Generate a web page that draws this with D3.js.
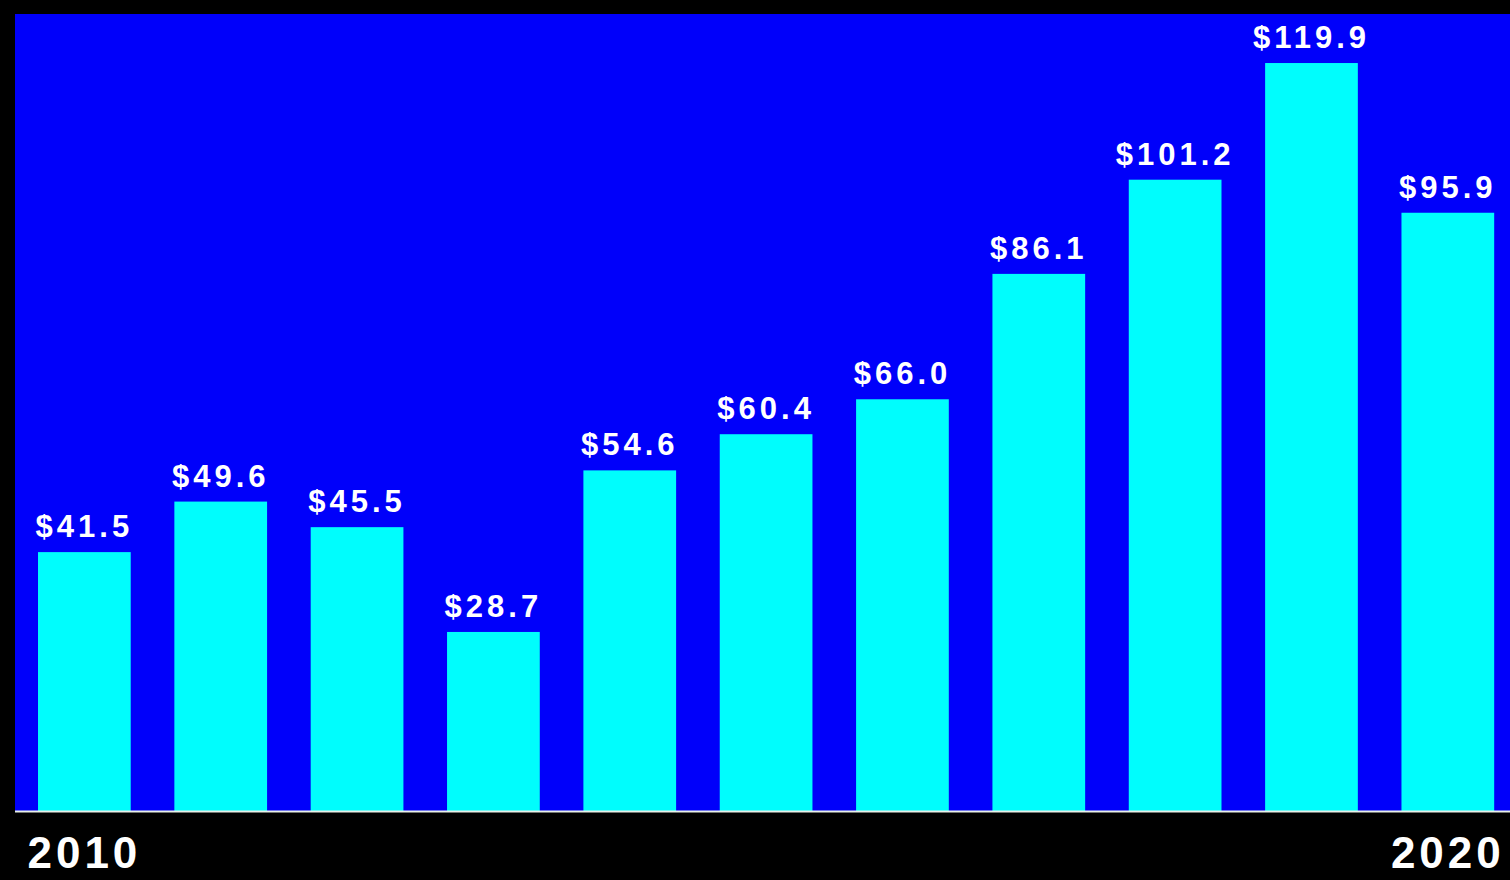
<!DOCTYPE html>
<html>
<head>
<meta charset="utf-8">
<script src="https://cdn.jsdelivr.net/npm/d3@7"></script>
<style>
  html, body { margin: 0; padding: 0; background: #000; }
  svg { display: block; }
</style>
</head>
<body>
<svg id="chart" width="1510" height="880"></svg>
<script>
// Annual values, in $ billions
const years = [2010, 2011, 2012, 2013, 2014, 2015, 2016, 2017, 2018, 2019, 2020];
const values = [41.5, 49.6, 45.5, 28.7, 54.6, 60.4, 66.0, 86.1, 101.2, 119.9, 95.9];
const yearTicks = [2010, 2020];

const W = 1510, H = 880;
const plot = { left: 15, top: 14, right: 1510, bottom: 811 };

const svg = d3.select("#chart");

svg.append("rect")
  .attr("width", W).attr("height", H)
  .attr("fill", "#000");

svg.append("rect")
  .attr("x", plot.left).attr("y", plot.top)
  .attr("width", plot.right - plot.left)
  .attr("height", plot.bottom - plot.top)
  .attr("fill", "#0000fa");

const x = d3.scaleBand()
  .domain(years)
  .range([16.2, 1516])
  .paddingInner(0.32)
  .paddingOuter(0.16);

const y = d3.scaleLinear()
  .domain([0, 127.6])
  .range([plot.bottom, plot.top + 1]);

const data = years.map((yr, i) => ({ year: yr, value: values[i] }));

svg.append("g")
  .selectAll("rect")
  .data(data)
  .join("rect")
  .attr("x", d => x(d.year))
  .attr("y", d => y(d.value))
  .attr("width", x.bandwidth())
  .attr("height", d => y(0) - y(d.value))
  .attr("fill", "#00fdfd");

// value labels above bars
svg.append("g")
  .selectAll("text")
  .data(data)
  .join("text")
  .attr("x", d => x(d.year) + x.bandwidth() / 2)
  .attr("y", d => y(d.value) - 15)
  .attr("text-anchor", "middle")
  .attr("fill", "#fff")
  .attr("font-family", "'Liberation Sans', Arial, sans-serif")
  .attr("font-weight", "bold")
  .attr("font-size", 31)
  .attr("letter-spacing", 4)
  .text(d => "$" + d.value.toFixed(1));

// baseline
svg.append("line")
  .attr("x1", plot.left).attr("x2", plot.right)
  .attr("y1", plot.bottom + 0.5).attr("y2", plot.bottom + 0.5)
  .attr("stroke", "#e8f0e8")
  .attr("stroke-width", 2);

// year axis
const axis = d3.axisBottom(x)
  .tickValues(yearTicks)
  .tickSize(0)
  .tickPadding(0);

const gAxis = svg.append("g")
  .attr("transform", `translate(0,${plot.bottom})`)
  .call(axis);
gAxis.select(".domain").remove();
gAxis.selectAll("text")
  .attr("y", 57)
  .attr("dy", 0)
  .attr("fill", "#fff")
  .attr("font-family", "'Liberation Sans', Arial, sans-serif")
  .attr("font-weight", "bold")
  .attr("font-size", 44)
  .attr("letter-spacing", 4);
</script>
</body>
</html>
